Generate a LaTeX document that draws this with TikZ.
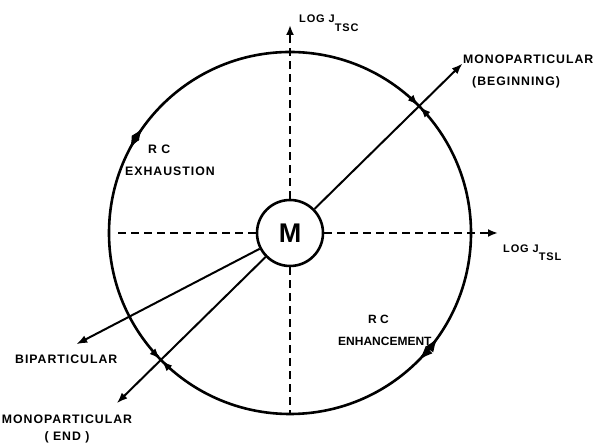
\documentclass[tikz,border=0pt]{standalone}
\usepackage{fontspec}
\setmainfont{Liberation Sans}
\newfontfamily\lblfont[LetterSpace=8]{Liberation Sans}
\usetikzlibrary{arrows.meta,positioning,calc}

\begin{document}
\begin{tikzpicture}[x=1pt, y=1pt,
  lbl/.style={inner sep=0pt, font=\lblfont\bfseries\fontsize{12.3}{22}\selectfont},
  axlbl/.style={inner sep=0pt, anchor=base west, font=\lblfont\bfseries\fontsize{11}{12}\selectfont},
  axis/.style={line width=2pt, dash pattern=on 8pt off 5pt},
  ar/.style={-{Latex[length=11pt,width=8pt]}, line width=2pt},
  rim/.style={line width=2.6pt}]
\useasboundingbox (0,0) rectangle (601,446);
\coordinate (c) at (290,213);
\draw[rim] (c) circle[radius=181];
\node[circle, draw, rim, fill=white, minimum size=66pt, inner sep=0pt,
  font=\bfseries\fontsize{27}{27}\selectfont] (m) at (c) {M};
\coordinate (ytop) at (290,421);
\coordinate (ybot) at ($(c)+(0,-181)$);
\coordinate (xl) at (115,213);
\coordinate (xr) at (498,213);
\draw[axis, -{Latex[length=10pt,width=8pt]}] (m.north) -- (ytop);
\draw[axis] (m.south) -- (ybot);
\draw[axis] (m.west) -- (xl);
\draw[axis, -{Latex[length=10pt,width=8pt]}] (m.east) -- (xr);
\coordinate (mb) at ($(c)+(44.5:242)$);
\coordinate (bp) at ($(c)+(207.5:241)$);
\coordinate (me) at ($(c)+(224.5:243)$);
\foreach \t in {mb,bp,me}\draw[ar] (m) -- (\t);
\foreach \s/\e/\l/\w in {48.4/44.8/11/8, 40.6/44.2/11/8, 228.4/224.8/11/8, 220.6/224.2/11/8,
  148.4/144.4/13/9, 148.4/152.4/13/9, -40/-35.2/15/10, -40/-44.8/15/10}
  \draw[rim, -{Latex[length=\l pt, width=\w pt]}] ($(c)+(\s:181)$) arc[start angle=\s, end angle=\e, radius=181];
\node[axlbl] (tsc) at (299,423) {LOG J\raisebox{-9pt}{TSC}};
\node[axlbl] (tsl) at (503,193) {LOG J\raisebox{-8pt}{TSL}};
\node[lbl, align=left, anchor=north west] (monob) at (463,391) {MONOPARTICULAR\\\hspace*{9pt}(BEGINNING)};
\node[lbl, align=left, anchor=north west] (rcx) at (125,301) {\hspace*{23pt}R C\\EXHAUSTION};
\node[lbl, align=left, anchor=north west, font=\bfseries\fontsize{12}{22}\selectfont] (rcn) at (338,131) {\hspace*{30pt}R C\\ENHANCEMENT};
\node[lbl, anchor=north west] (bip) at (15,91) {BIPARTICULAR};
\node[lbl, align=center, anchor=north, font=\lblfont\bfseries\fontsize{12.3}{17}\selectfont] (monoe) at (67,31) {MONOPARTICULAR\\( END )};
\end{tikzpicture}
\end{document}
